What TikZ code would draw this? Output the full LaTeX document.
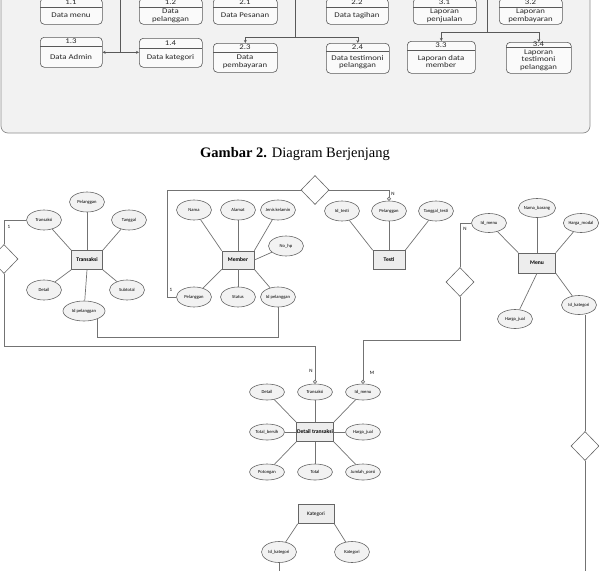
\documentclass[tikz,border=0pt]{standalone}
\usepackage{fontspec}
\setmainfont{Liberation Serif}
\newfontfamily\calf{Carlito}
\newfontfamily\calst[FakeStretch=1.2]{Carlito}
\usetikzlibrary{shapes.geometric,arrows.meta}
\tikzset{
 erl/.style={draw=black!55, line width=0.7pt},
 attr/.style={ellipse, draw=black!60, line width=0.6pt, fill=black!5, minimum width=35pt, minimum height=20pt, inner sep=0pt, font=\calf\fontsize{4.6}{5.2}\selectfont},
 ent/.style={rectangle, draw=black!60, line width=0.6pt, fill=black!7, minimum width=31pt, minimum height=19pt, inner sep=0pt, font=\calf\bfseries\fontsize{5.6}{6.5}\selectfont},
 rel/.style={diamond, draw=black!60, line width=0.6pt, fill=white, minimum width=28pt, minimum height=29pt, inner sep=0pt},
 card/.style={font=\calf\fontsize{5}{6}\selectfont, inner sep=0pt},
 ctip/.style={-{Circle[open,length=4pt,width=4pt]}},
 pbox/.style={draw=black!65, line width=0.6pt, fill=black!2, rounded corners=4pt, inner sep=0pt},
 ptext/.style={font=\calst\fontsize{7.3}{7.6}\selectfont, text=black!85, inner sep=0pt, align=center},
 pline/.style={draw=black!65, line width=0.6pt},
 parr/.style={pline, -{Stealth[length=3pt,width=3pt]}},
}
\newcommand\procbx[8]{%
  \pgfmathsetmacro\pbW{#4-#2}\pgfmathsetmacro\pbH{#6-#3}%
  \node[pbox, minimum width=\pbW pt, minimum height=\pbH pt, anchor=north west] (#1) at (#2,#3) {};
  \draw[pline] (#2,#5) -- (#4,#5);
  \node[ptext] (#1h) at ({(#2+#4)/2},{(#3+#5)/2}) {#7};
  \node[ptext] (#1t) at ({(#2+#4)/2},{(#5+#6)/2}) {#8};
}
\begin{document}
\begin{tikzpicture}[x=1pt,y=-1pt]
\useasboundingbox (0,0) rectangle (599,570);
\clip (0,0) rectangle (599,570);
% top panel
\draw[draw=black!45, line width=0.7pt, fill=black!5, rounded corners=7pt] (1,-20) rectangle (590,133);
\procbx{b11}{40}{-2}{102}{7}{24}{1.1}{Data menu}
\procbx{b12}{139}{-2}{202}{7}{24}{1.2}{Data\\pelanggan}
\procbx{b21}{213}{-2}{277}{7}{24}{2.1}{Data Pesanan}
\procbx{b22}{326}{-2}{388}{7}{24}{2.2}{Data tagihan}
\procbx{b31}{413}{-2}{476}{7}{24}{3.1}{Laporan\\penjualan}
\procbx{b32}{499}{-2}{562}{7}{24}{3.2}{Laporan\\pembayaran}
\procbx{b13}{40}{37}{102}{46}{67}{1.3}{Data Admin}
\procbx{b14}{139}{38}{202}{48}{67}{1.4}{Data kategori}
\procbx{b23}{213}{43}{277}{52}{72}{2.3}{Data\\pembayaran}
\procbx{b24}{326}{43}{389}{51}{73}{2.4}{Data testimoni\\pelanggan}
\procbx{b33}{407}{41}{475}{50}{73}{3.3}{Laporan data\\member}
\procbx{b34}{506}{42}{571}{47}{73}{3.4}{Laporan\\testimoni\\pelanggan}
\coordinate (t1) at (120.5,-5);
\coordinate (t1b) at (120.5,52);
\coordinate (t2) at (295,-5);
\coordinate (t2b) at (295,37);
\coordinate (t3) at (487,-5);
\coordinate (t3b) at (487,32);
\draw[pline] (t1) -- (t1b);
\draw[pline, {Stealth[length=3pt,width=3pt]}-{Stealth[length=3pt,width=3pt]}] (b13.east) -- (b13.east -| b14.west);
\draw[pline] (t2) -- (t2b);
\draw[parr] (t2b) -| (b23.north);
\draw[parr] (t2b) -| (b24.north);
\draw[pline] (t3) -- (t3b);
\draw[parr] (t3b) -| (b33.north);
\draw[parr] (t3b) -| (b34.north);
% caption
\node[font=\fontsize{14.5}{16}\selectfont, anchor=base, inner sep=0pt] (cap) at (295,157) {\textbf{Gambar 2.} Diagram Berjenjang};
% Transaksi
\node[ent] (tr) at (87,260) {Transaksi};
\node[attr] (tp) at (87,202) {Pelanggan};
\node[attr] (ta) at (44,220) {Transaksi};
\node[attr] (tg) at (129,220) {Tanggal};
\node[attr] (td) at (44,290) {Detail};
\node[attr] (ts) at (127,290) {Subtotal};
\node[attr, minimum width=42pt] (tip) at (84,311) {Id pelanggan};
\draw[erl] (tr.north) -- (tp);
\draw[erl] (tr.north west) -- (ta);
\draw[erl] (tr.north east) -- (tg);
\draw[erl] (tr.south west) -- (td);
\draw[erl] (tr.south east) -- (ts);
\draw[erl] (tr.south) -- (tip);
% Member
\node[ent, minimum width=32pt, minimum height=18pt] (mb) at (238,260) {Member};
\node[attr] (mn) at (194,210) {Nama};
\node[attr] (ma) at (238,210) {Alamat};
\node[attr] (mj) at (278,210) {Jenis kelamin};
\node[attr] (mh) at (286,246) {No\_hp};
\node[attr] (mp) at (194,297) {Pelanggan};
\node[attr] (ms) at (238,297) {Status};
\node[attr] (mi) at (278,297) {Id pelanggan};
\draw[erl] (mb.north west) -- (mn);
\draw[erl] (mb.north) -- (ma);
\draw[erl] (mb.north east) -- (mj);
\draw[erl] (mb.east) -- (mh);
\draw[erl] (mb.south west) -- (mp);
\draw[erl] (mb.south) -- (ms);
\draw[erl] (mb.south east) -- (mi);
% Testi
\node[ent, minimum width=32pt] (te) at (389,260) {Testi};
\node[attr] (ti) at (342,211) {Id\_testi};
\node[attr] (tep) at (389,211) {Pelanggan};
\node[attr] (tt) at (436,211) {Tanggal\_testi};
\draw[erl] (te.north west) -- (ti);
\draw[erl] (te.north) -- (tep);
\draw[erl] (te.north east) -- (tt);
% Menu
\node[ent, minimum width=37pt, minimum height=20pt] (me) at (537,263) {Menu};
\node[attr, minimum height=19pt] (mim) at (489,223) {Id\_menu};
\node[attr, minimum height=19pt] (mnb) at (537,208) {Nama\_barang};
\node[attr, minimum height=19pt] (mhm) at (581,223) {Harga\_modal};
\node[attr, minimum height=19pt] (mhj) at (515,319) {Harga\_jual};
\node[attr, minimum height=19pt] (mik) at (579,305) {Id\_kategori};
\draw[erl] (me.north west) -- (mim);
\draw[erl] (me.north) -- (mnb);
\draw[erl] (me.north east) -- (mhm);
\draw[erl] (me.south) -- (mhj);
\draw[erl] (me.south east) -- (mik);
% Detail transaksi
\node[ent, minimum width=37pt] (dt) at (315,432) {Detail transaksi};
\node[attr, minimum height=16pt] (dd) at (267,392) {Detail};
\node[attr, minimum height=16pt] (dtr) at (315,392) {Transaksi};
\node[attr, minimum height=16pt] (dim) at (363,392) {Id\_menu};
\node[attr, minimum height=16pt] (dtb) at (267,432) {Total\_bersih};
\node[attr, minimum height=16pt] (dhj) at (363,432) {Harga\_jual};
\node[attr, minimum height=16pt] (dpt) at (267,472) {Potongan};
\node[attr, minimum height=16pt] (dto) at (315,472) {Total};
\node[attr, minimum height=16pt] (djp) at (363,472) {Jumlah\_porsi};
\draw[erl] (dt.north west) -- (dd);
\draw[erl] (dt.north) -- (dtr);
\draw[erl] (dt.north east) -- (dim);
\draw[erl] (dt.west) -- (dtb);
\draw[erl] (dt.east) -- (dhj);
\draw[erl] (dt.south west) -- (dpt);
\draw[erl] (dt.south) -- (dto);
\draw[erl] (dt.south east) -- (djp);
% Kategori
\node[ent, minimum width=36pt, font=\calf\fontsize{5.3}{6}\selectfont] (ka) at (316,514) {Kategori};
\node[attr, minimum height=21pt] (kid) at (279,552) {Id\_kategori};
\node[attr, minimum height=21pt] (kk) at (352,552) {Kategori};
\draw[erl] (ka.south west) -- (kid);
\draw[erl] (ka.south east) -- (kk);
% relationships
\node[rel] (r1) at (4,259) {};
\node[rel] (r2) at (315,190) {};
\node[rel] (r3) at (460,282) {};
\node[rel] (r4) at (585,446) {};
\coordinate (ya) at (0,346);
\coordinate (yb) at (0,337);
\coordinate (yc) at (0,340);
\coordinate (k1) at (167,190);
\coordinate (bot) at (0,575);
\draw[erl] (r1.north) |- (ta.west);
\draw[erl, ctip] (r1.south) -- (r1.south |- ya) -| (dtr.north);
\draw[erl] (tip.329) -- (tip.329 |- yb) -| (mi.south);
\draw[erl] (mp.west) -| (k1) -- (r2.west);
\draw[erl, ctip] (r2.east) -| (tep.north);
\draw[erl] (mim.west) -| (r3.north);
\draw[erl, ctip] (r3.south) -- (r3.south |- yc) -| (dim.north);
\draw[erl] (r4.north) -- (r4.north |- mik.south);
\draw[erl] (r4.south) -- (r4.south |- bot);
\draw[erl] (kid.south) -- (kid.south |- bot);
% cardinalities
\node[card] (l1) at (9,227) {1};
\node[card] (l2) at (171,290) {1};
\node[card] (l3) at (393,194) {N};
\node[card] (l4) at (465,229) {N};
\node[card] (l5) at (311,371) {N};
\node[card] (l6) at (372,373) {M};
\end{tikzpicture}
\end{document}
